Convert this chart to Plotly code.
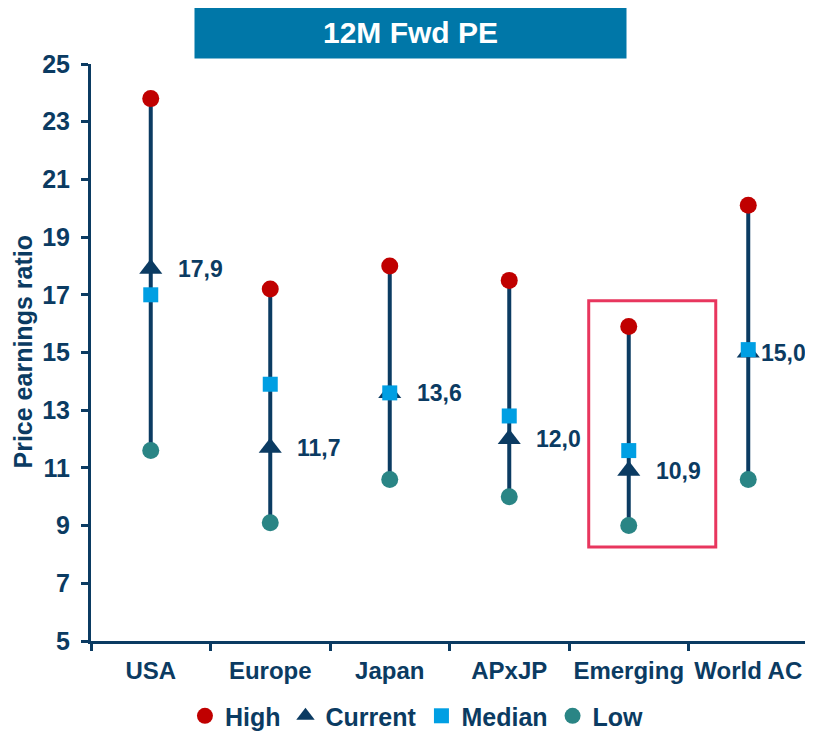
import plotly.graph_objects as go

regions = ["USA", "Europe", "Japan", "APxJP", "Emerging", "World AC"]
high = [23.8, 17.2, 18.0, 17.5, 15.9, 20.1]
current = [17.9, 11.7, 13.6, 12.0, 10.9, 15.0]
median = [17.0, 13.9, 13.6, 12.8, 11.6, 15.1]
low = [11.6, 9.1, 10.6, 10.0, 9.0, 10.6]
y_ticks = list(range(5, 26, 2))

NAVY = "#0B3B62"
FONT = "Liberation Sans, Arial, sans-serif"

fig = go.Figure()

# low-high range lines
line_x, line_y = [], []
for r, lo, hi in zip(regions, low, high):
    line_x += [r, r, None]
    line_y += [lo, hi, None]
fig.add_trace(go.Scatter(x=line_x, y=line_y, mode="lines",
                         line=dict(color=NAVY, width=4), showlegend=False, hoverinfo="skip"))

fig.add_trace(go.Scatter(x=regions, y=high, mode="markers", name="High",
                         marker=dict(symbol="circle", size=17, color="#C00000")))
fig.add_trace(go.Scatter(x=regions, y=current, mode="markers", name="Current",
                         marker=dict(symbol="triangle-up", size=20, color=NAVY)))
fig.add_trace(go.Scatter(x=regions, y=median, mode="markers", name="Median",
                         marker=dict(symbol="square", size=15, color="#009FE3")))
fig.add_trace(go.Scatter(x=regions, y=low, mode="markers", name="Low",
                         marker=dict(symbol="circle", size=17, color="#2A8585")))

# value labels for the current PE; the last one sits closer so it fits the page
label_shift = [25, 25, 25, 25, 25, 11]
for r, v, dx in zip(regions, current, label_shift):
    fig.add_annotation(x=r, y=v, text=f"{v:.1f}".replace(".", ","), showarrow=False,
                       xanchor="left", yanchor="middle", xshift=dx,
                       font=dict(family=FONT, size=23, color=NAVY, weight="bold"))

# highlight box around Emerging
fig.add_shape(type="rect", xref="x", yref="y", x0=3.665, x1=4.728, y0=8.26, y1=16.79,
              line=dict(color="#E8365E", width=3), fillcolor="rgba(0,0,0,0)")

# title box
fig.add_annotation(xref="paper", yref="paper", x=0.4456, y=1.0546, text="<b>12M Fwd PE</b>",
                   showarrow=False, xanchor="center", yanchor="middle",
                   width=429, height=49, bgcolor="#0077A8",
                   font=dict(family=FONT, size=30, color="white"))

# y axis title
fig.add_annotation(xref="paper", yref="paper", x=0, y=0.5, xshift=-69, text="Price earnings ratio",
                   textangle=-90, showarrow=False, xanchor="center", yanchor="middle",
                   font=dict(family=FONT, size=25, color=NAVY, weight="bold"))

# page body adds an 8px margin, so the figure is sized 8px smaller
fig.update_layout(
    width=805, height=723,
    margin=dict(l=83, r=5, t=56, b=90),
    paper_bgcolor="white", plot_bgcolor="white",
    font=dict(family=FONT, color=NAVY, weight="bold"),
    legend=dict(orientation="h", x=0.508, xref="container", xanchor="center",
                y=0.0207, yref="container", yanchor="middle",
                font=dict(size=25, color=NAVY), itemwidth=30, tracegroupgap=0),
    showlegend=True,
)
fig.update_xaxes(type="category", range=[-0.5, 5.5], showline=True, linecolor=NAVY, linewidth=3,
                 ticks="outside", tickson="boundaries", ticklen=7, tickwidth=3, tickcolor=NAVY,
                 showgrid=False, tickfont=dict(size=24, color=NAVY), tickangle=0,
                 ticklabelstandoff=6, automargin=False, fixedrange=True)
fig.update_yaxes(range=[5, 25], tickvals=y_ticks, showline=True, linecolor=NAVY, linewidth=3,
                 ticks="outside", ticklen=7, tickwidth=3, tickcolor=NAVY, showgrid=False,
                 zeroline=False, tickfont=dict(size=25, color=NAVY), ticklabelstandoff=6,
                 automargin=False)

fig.write_html("out.html")
